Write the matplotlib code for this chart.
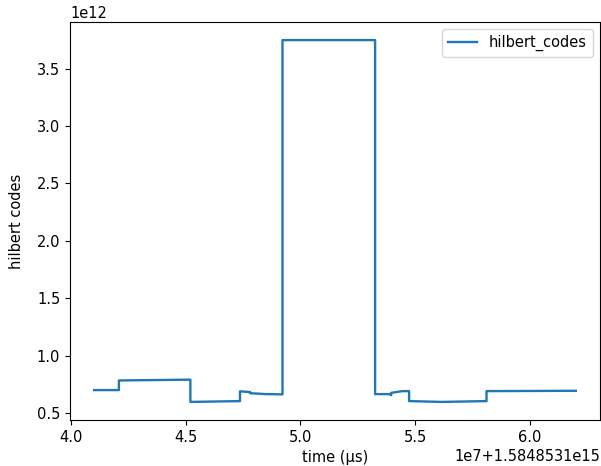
import matplotlib
matplotlib.use("Agg")
import matplotlib.pyplot as plt
import numpy as np

offset = 1.5848531e15
# time relative to offset, in units of 1e7 µs
time_rel = [4.102, 4.210, 4.210, 4.521, 4.521, 4.737, 4.737, 4.781, 4.781, 4.850, 4.922,
            4.922, 5.325, 5.325, 5.387, 5.395, 5.395, 5.443, 5.473, 5.473,
            5.616, 5.810, 5.810, 6.199]
# hilbert codes, in units of 1e12
codes = [0.699, 0.699, 0.783, 0.790, 0.596, 0.603, 0.688, 0.682, 0.672, 0.664, 0.662,
         3.750, 3.750, 0.664, 0.664, 0.655, 0.675, 0.690, 0.690, 0.603,
         0.596, 0.603, 0.690, 0.693]

plt.rcParams["font.size"] = 10.5
t = np.array(time_rel) * 1e7 + offset
v = np.array(codes) * 1e12

fig = plt.figure(figsize=(6.01, 4.66), dpi=100)
ax = fig.add_axes([70/601, 1-420/466, 530/601, 398/466])
ax.plot(t, v, lw=1.7, label="hilbert_codes")
ax.set_xlabel("time (µs)")
ax.set_ylabel("hilbert codes", labelpad=9)
ax.legend(loc="upper right")
fig.savefig("out.png", dpi=100)
